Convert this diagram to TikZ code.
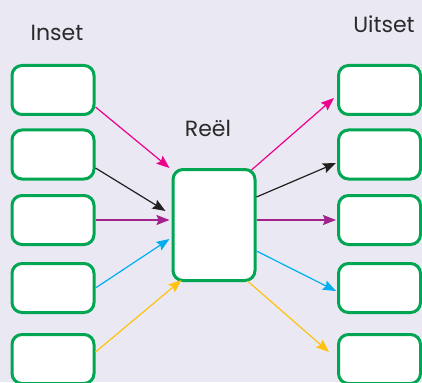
\documentclass[tikz,border=0pt]{standalone}
\usepackage{fontspec}
\setmainfont{Poppins}
\usepackage{tikz}
\usetikzlibrary{arrows.meta,positioning}
\definecolor{bgcol}{HTML}{E9E8F3}
\definecolor{boxgreen}{HTML}{00A651}
\definecolor{labelgray}{HTML}{2B2A29}
\definecolor{linkpink}{HTML}{EC008C}
\definecolor{linkblack}{HTML}{231F20}
\definecolor{linkpurple}{HTML}{A3238E}
\definecolor{linkcyan}{HTML}{00AEEF}
\definecolor{linkyellow}{HTML}{FFC20E}
\tikzset{
  slot/.style={draw=boxgreen,fill=white,line width=3pt,rounded corners=10pt,
    minimum width=82pt,minimum height=49pt,inner sep=0pt},
  link/.style={line width=1.2pt,-{Stealth[length=13pt,width=10pt,inset=2pt]}},
  title/.style={anchor=base,inner sep=0pt,text=labelgray,font=\fontsize{22}{26}\selectfont}
}
\begin{document}
\begin{tikzpicture}[x=1pt,y=-1pt]
  % Background
  \fill[bgcol] (0,0) rectangle (422,382);
  \useasboundingbox (0,0) rectangle (422,382);

  % Boxes
  \foreach \i/\y in {1/90,2/154.5,3/220,4/288,5/359}{
    \node[slot] (in\i) at (53,\y) {};
    \node[slot] (out\i) at (379.5,\y) {};
  }
  \node[slot,minimum height=111pt] (mid) at (214,225) {};

  % Labels
  \node[title] (lblin) at (57,41) {Inset};
  \node[title] (lblout) at (384,33) {Uitset};
  \node[title] (lblmid) at (208,136) {Reël};

  % Arrows in
  \draw[link,linkpink] ([yshift=-17pt]in1.east) -- ([xshift=-2pt]mid.north west);
  \draw[link,linkblack] ([yshift=-13.5pt]in2.east) -- ([xshift=-6pt,yshift=14pt]mid.west);
  \draw[link,linkpurple] (in3.east) -- ([xshift=-2pt,yshift=5pt]mid.west);
  \draw[link,linkcyan] (in4.east) -- ([xshift=-2pt,yshift=-14pt]mid.west);
  \draw[link,linkyellow] ([yshift=7pt]in5.east) -- ([xshift=10pt,yshift=2pt]mid.south west);

  % Arrows out
  \draw[link,linkpink] ([xshift=-5pt,yshift=-2pt]mid.north east) -- ([xshift=-3pt,yshift=-8pt]out1.west);
  \draw[link,linkblack] ([yshift=28pt]mid.east) -- ([xshift=-1pt,yshift=-8.5pt]out2.west);
  \draw[link,linkpurple] ([yshift=5pt]mid.east) -- ([xshift=-1pt]out3.west);
  \draw[link,linkcyan] ([yshift=-26pt]mid.east) -- ([xshift=-1pt,yshift=-3pt]out4.west);
  \draw[link,linkyellow] ([xshift=-9pt,yshift=1pt]mid.south east) -- ([xshift=-8pt,yshift=7pt]out5.west);
\end{tikzpicture}
\end{document}
